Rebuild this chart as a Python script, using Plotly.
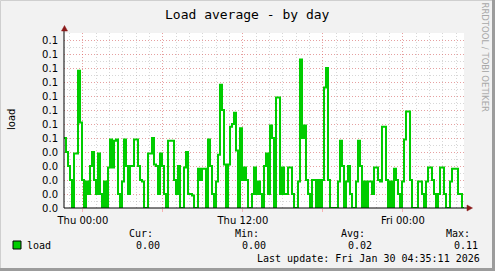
import pandas as pd
import plotly.graph_objects as go

# ---------------- data ----------------
title = "Load average - by day"
start = pd.Timestamp("2026-01-28 22:35:11")
step_min = 9
# load average in hundredths, one value per 9-minute step (30 hours)
load_centi = [
    5.0, 4.0, 3.0, 2.0, 0, 3.9, 3.9, 9.8, 6.1, 2.0, 0, 1.9, 1.0, 3.0, 4.0, 2.0, 1.0, 3.9, 1.0, 0,
    1.9, 0, 2.9, 4.9, 2.9, 4.8, 4.9, 1.0, 0, 1.9, 4.9, 3.0, 1.0, 3.0,
    3.0, 4.9, 4.9, 3.0, 2.0, 1.9, 0, 0, 3.9, 3.9, 5.0, 3.1, 3.0, 1.0, 3.9, 3.0, 1.0, 0, 4.8, 4.8,
    4.8, 2.0, 1.0, 3.0, 0, 0, 2.9, 4.0, 1.0, 1.0, 0.9, 0, 0, 2.8,
    2.0, 2.8, 2.8, 0, 4.9, 3.0, 1.0, 0, 1.9, 3.8, 8.8, 7.0, 3.1, 0, 3.1, 5.8, 6.0, 6.8, 4.1, 0,
    5.7, 2.0, 2.9, 2.0, 0, 0, 1.0, 2.9, 1.0, 1.9, 1.0, 0, 3.0, 3.9,
    1.0, 5.9, 5.0, 0, 7.9, 7.9, 1.0, 2.9, 1.0, 1.0, 2.9, 2.9, 1.0, 0, 0, 1.9, 10.6, 5.0, 5.9, 2.0,
    1.0, 0, 2.0, 2.0, 0, 2.0, 0, 2.0, 8.6, 10.0, 2.0, 0, 0, 0,
    0, 1.9, 4.8, 3.0, 0, 1.9, 3.0, 1.0, 0, 0, 1.9, 4.8, 3.0, 0, 1.9, 0, 1.9, 1.9, 1.0, 2.9,
    2.9, 2.0, 1.9, 5.8, 5.8, 2.0, 0, 1.9, 0, 2.8, 2.0, 1.0, 0, 1.9,
    4.9, 6.9, 6.9, 2.0, 0, 0, 0, 1.9, 1.9, 1.0, 0, 1.9, 2.9, 2.9, 2.0, 1.0, 0, 1.0, 2.9, 2.9,
    1.0, 0, 0, 1.9, 2.8, 2.8, 2.8, 1.0, 1.0, 0,
]
load = [v / 100 for v in load_centi]
y_ticks = [0.00, 0.01, 0.02, 0.03, 0.04, 0.05, 0.06, 0.07, 0.08, 0.09, 0.10, 0.11, 0.12]
y_tick_labels = ["0.0", "0.0", "0.0", "0.0", "0.0", "0.1", "0.1", "0.1", "0.1", "0.1", "0.1", "0.1", "0.1"]
x_major = ["2026-01-29 00:00", "2026-01-29 06:00", "2026-01-29 12:00", "2026-01-29 18:00",
           "2026-01-30 00:00"]
x_major_labels = ["Thu 00:00", "", "Thu 12:00", "", "Fri 00:00"]
stats = {"Cur:": "0.00", "Min:": "0.00", "Avg:": "0.02", "Max:": "0.11"}
last_update = "Last update: Fri Jan 30 04:35:11 2026"
series_name = "load"

# ---------------- layout geometry ----------------
W, H = 495, 271
L, R, T, B = 64, 31, 33, 63
PW, PH = W - L - R, H - T - B


def px(x):
    return (x - L) / PW


def py(y):
    return (H - B - y) / PH


times = [start + pd.Timedelta(minutes=step_min * i) for i in range(len(load))]
end = start + pd.Timedelta(minutes=step_min * len(load))
xs = times + [end]
ys = load + [load[-1]]

GREEN = "#00CC00"
MAJ = "rgba(255,70,70,0.38)"
MIN = "rgba(140,140,140,0.35)"
ARROW = "#8B1A1A"
SANS = "DejaVu Sans"
MONO = "DejaVu Sans Mono"

fig = go.Figure()
fig.add_trace(go.Scatter(x=xs, y=ys, mode="lines", line=dict(color=GREEN, width=2, shape="hv"),
                         showlegend=False, hoverinfo="skip"))

fig.update_layout(
    width=W, height=H, margin=dict(l=L, r=R, t=T, b=B),
    paper_bgcolor="#F2F2F2", plot_bgcolor="#FFFFFF",
    font=dict(family=SANS, size=10, color="#000000"),
    showlegend=False,
)
fig.update_xaxes(
    type="date", range=[start, end], tickmode="array", tickvals=x_major, ticktext=x_major_labels,
    showgrid=True, gridcolor=MAJ, griddash="1px,2px", gridwidth=1,
    ticks="outside", ticklen=3, tickcolor=MAJ,
    showline=False, zeroline=False, tickfont=dict(family=SANS, size=10, color="#000"),
    minor=dict(tick0="2026-01-29 00:00", dtick=3600000, showgrid=True, gridcolor=MIN,
               griddash="1px,2px", gridwidth=1, ticks=""),
    fixedrange=True,
)
fig.update_yaxes(
    range=[0, 0.125], tickmode="array", tickvals=y_ticks, ticktext=y_tick_labels,
    showgrid=True, gridcolor=MAJ, griddash="1px,2px", gridwidth=1,
    ticks="", ticklabelstandoff=5, showline=False, zeroline=False,
    tickfont=dict(family=SANS, size=10, color="#000"),
    minor=dict(tick0=0, dtick=0.005, showgrid=True, gridcolor=MIN, griddash="1px,2px",
               gridwidth=1, ticks=""),
    fixedrange=True,
)

shapes = []
# axes lines
shapes.append(dict(type="line", xref="paper", yref="paper", x0=px(64), x1=px(468), y0=0, y1=0,
                   line=dict(color="#000000", width=1)))
shapes.append(dict(type="line", xref="paper", yref="paper", x0=0, x1=0, y0=0, y1=py(29),
                   line=dict(color="#000000", width=1)))
# arrows
shapes.append(dict(type="path", xref="paper", yref="paper",
                   path=f"M {px(61.5)},{py(31)} L {px(67.5)},{py(31)} L {px(64.5)},{py(25.5)} Z",
                   fillcolor=ARROW, line=dict(color=ARROW, width=0.5)))
shapes.append(dict(type="path", xref="paper", yref="paper",
                   path=f"M {px(467)},{py(205)} L {px(467)},{py(211)} L {px(472.5)},{py(208)} Z",
                   fillcolor=ARROW, line=dict(color=ARROW, width=0.5)))
# legend swatch
shapes.append(dict(type="rect", xref="paper", yref="paper", x0=px(13), x1=px(21), y0=py(249), y1=py(241),
                   fillcolor=GREEN, line=dict(color="#000000", width=1)))
# frame
shapes.append(dict(type="rect", xref="paper", yref="paper", x0=px(0.5), x1=px(W - 1.5), y0=py(H - 1.5),
                   y1=py(0.5), fillcolor="rgba(0,0,0,0)", line=dict(color="#CFCFCF", width=1)))
shapes.append(dict(type="line", xref="paper", yref="paper", x0=px(W - 1.5), x1=px(W - 1.5), y0=py(0),
                   y1=py(H), line=dict(color="#9C9C9C", width=3)))
shapes.append(dict(type="line", xref="paper", yref="paper", x0=px(0), x1=px(W), y0=py(H - 1.5),
                   y1=py(H - 1.5), line=dict(color="#9C9C9C", width=3)))
fig.update_layout(shapes=shapes)

ann = []


def text(x, y, s, size=10, family=MONO, xanchor="left", color="#000000", angle=0):
    ann.append(dict(x=px(x), y=py(y), xref="paper", yref="paper", text=s, showarrow=False,
                    xanchor=xanchor, yanchor="middle", textangle=angle,
                    font=dict(family=family, size=size, color=color)))


text(247, 14, title, size=13, xanchor="center")
text(11, 120, series_name, size=10, family=SANS, xanchor="center", angle=-90)
text(484.5, 57, "RRDTOOL / TOBI OETIKER", size=8.5, family=SANS, xanchor="center", color="#A8A8A8",
     angle=90)
text(25, 245, series_name, size=10)
label_x = [127, 233, 339, 444]
value_x = [162, 268, 374, 480]
for (k, v), lx, vx in zip(stats.items(), label_x, value_x):
    text(lx, 233, k, size=10)
    text(vx, 245, v, size=10, xanchor="right")
text(482, 258, last_update, size=10, xanchor="right")
fig.update_layout(annotations=ann)

fig.write_html("out.html")
